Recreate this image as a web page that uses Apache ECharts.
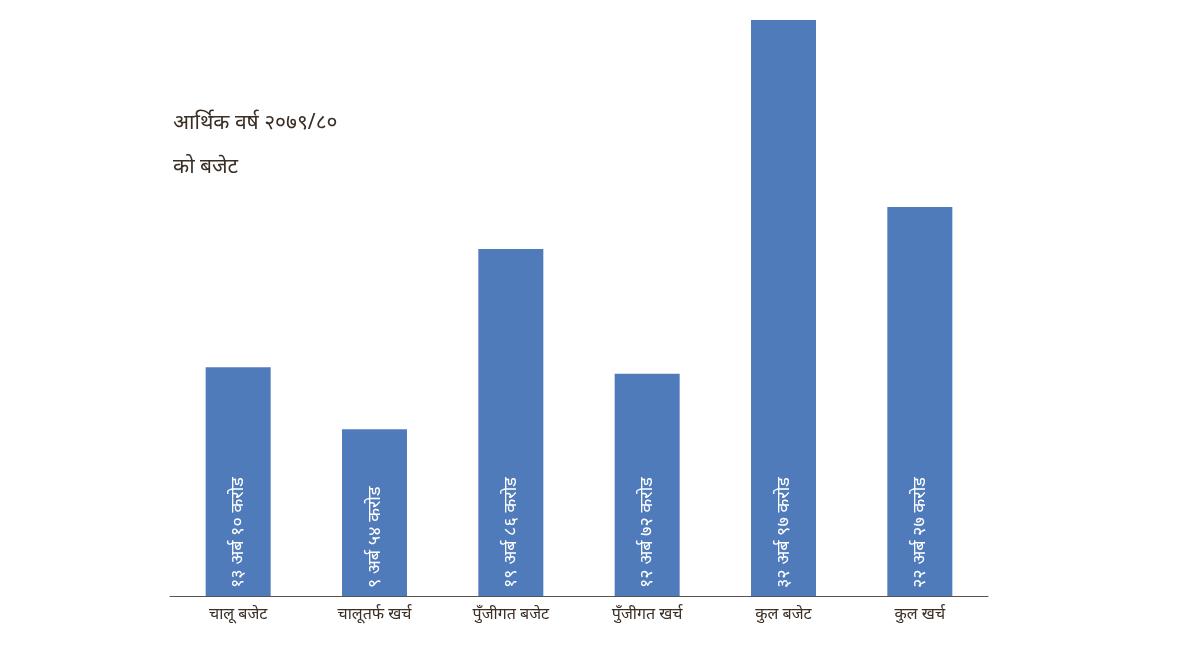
<!DOCTYPE html>
<html>
<head>
<meta charset="utf-8">
<script src="https://cdn.jsdelivr.net/npm/echarts@6/dist/echarts.min.js"></script>
<style>html,body{margin:0;padding:0;background:#fff}</style>
</head>
<body>
<div id="main" style="width:1200px;height:650px"></div>
<script>
// आर्थिक वर्ष २०७९/८० को बजेट
const categories = ['चालू बजेट', 'चालूतर्फ खर्च', 'पुँजीगत बजेट', 'पुँजीगत खर्च', 'कुल बजेट', 'कुल खर्च']
const values = [13.10, 9.54, 19.86, 12.72, 32.97, 22.27]
const valueLabels = ['१३ अर्ब १० करोड', '९ अर्ब ५४ करोड', '१९ अर्ब ८६ करोड', '१२ अर्ब ७२ करोड', '३२ अर्ब ९७ करोड', '२२ अर्ब २७ करोड']

const font = "'Noto Sans', 'DejaVu Sans', sans-serif"
let myChart = echarts.init(document.getElementById('main'))
myChart.setOption({
  animation: false,
  textStyle: { fontFamily: font },
  title: {
    text: 'आर्थिक वर्ष २०७९/८०\nको बजेट',
    left: 168,
    top: 96,
    textStyle: { fontSize: 21, fontWeight: 'normal', color: '#3a2e25', lineHeight: 44, fontFamily: font }
  },
  grid: { left: 170, right: 212, top: 20, bottom: 54 },
  xAxis: {
    type: 'category',
    data: categories,
    axisLine: { lineStyle: { color: '#555', width: 1 } },
    axisTick: { show: false },
    axisLabel: { color: '#3a2e25', fontSize: 16, margin: 10 }
  },
  yAxis: {
    type: 'value',
    min: 0,
    max: 32.97,
    show: false,
    splitLine: { show: false }
  },
  series: [{
    type: 'bar',
    data: values,
    barWidth: 65,
    itemStyle: { color: '#4f7bbb' },
    label: {
      show: true,
      position: 'insideBottom',
      rotate: 90,
      align: 'left',
      verticalAlign: 'middle',
      distance: 8,
      color: '#fff',
      fontSize: 18,
      formatter: p => valueLabels[p.dataIndex]
    }
  }]
})
</script>
</body>
</html>
